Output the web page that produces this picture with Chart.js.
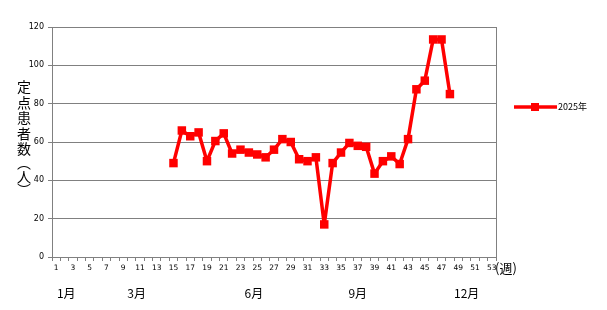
<!DOCTYPE html>
<html>
<head>
<meta charset="utf-8">
<script src="https://cdn.jsdelivr.net/npm/chart.js@4"></script>
<style>
  body { margin: 0; background: #fff; }
  canvas { display: block; }
</style>
</head>
<body>
<canvas id="chart" width="607" height="310"></canvas>
<script>
// weeks 1..53
const weeks = [];
for (let w = 1; w <= 53; w++) weeks.push(String(w));

// 2025 values, week 15 to week 48
const firstWeek = 15;
const values2025 = [49, 66, 63, 65, 50, 60.5, 64.5, 54, 56, 54.5, 53.5, 52, 56, 61.5, 60, 51,
  50, 52, 17, 49, 54.5, 59.5, 58, 57.5, 43.5, 50, 52.5, 48.5, 61.5, 87.5, 92, 113.5, 113.5, 85];

const monthLabels = ['1月', '3月', '6月', '9月', '12月'];
const monthWeeks = [2.2, 10.6, 24.6, 37, 50];
const yTitle = ['定', '点', '患', '者', '数', '︵', '人', '︶'];
const seriesName = '2025年';

const series = weeks.map((w, i) => {
  const k = i + 1 - firstWeek;
  return k >= 0 && k < values2025.length ? values2025[k] : null;
});

const grey = '#808080';
const red = '#ff0000';

const extras = {
  id: 'extras',
  afterDraw(chart) {
    const ctx = chart.ctx;
    const a = chart.chartArea;
    const xs = chart.scales.x;
    ctx.save();
    // right border of plot
    ctx.strokeStyle = grey;
    ctx.lineWidth = 1;
    ctx.beginPath();
    ctx.moveTo(Math.round(a.right) + 0.5, a.top);
    ctx.lineTo(Math.round(a.right) + 0.5, a.bottom);
    ctx.stroke();

    // month labels
    ctx.fillStyle = '#000';
    ctx.textAlign = 'center';
    ctx.textBaseline = 'middle';
    ctx.font = '12px "Noto Sans CJK JP"';
    const step = xs.getPixelForValue(1) - xs.getPixelForValue(0);
    monthLabels.forEach((m, i) => {
      const x = xs.getPixelForValue(0) + (monthWeeks[i] - 1) * step;
      ctx.fillText(m, x, 293);
    });

    // (週)
    ctx.textAlign = 'left';
    ctx.font = '13px "Noto Sans CJK JP"';
    ctx.fillText('(週)', a.right - 1, 268);

    // vertical y title
    ctx.textAlign = 'center';
    ctx.font = '14px "Noto Sans CJK JP"';
    let y = 87;
    yTitle.forEach(ch => {
      const small = ch === '︵' || ch === '︶';
      ctx.fillText(ch, 24, y + (small ? -2 : 0));
      y += small ? 12 : 15.5;
    });

    // legend
    const ly = 107;
    ctx.strokeStyle = red;
    ctx.lineWidth = 3.5;
    ctx.beginPath();
    ctx.moveTo(514, ly);
    ctx.lineTo(557, ly);
    ctx.stroke();
    ctx.fillStyle = red;
    ctx.fillRect(531, ly - 4, 8, 8);
    ctx.fillStyle = '#000';
    ctx.textAlign = 'left';
    ctx.font = '9px "Noto Sans CJK JP"';
    ctx.fillText(seriesName, 558, ly);
    ctx.restore();
  }
};

new Chart(document.getElementById('chart'), {
  type: 'line',
  data: {
    labels: weeks,
    datasets: [{
      label: seriesName,
      data: series,
      borderColor: red,
      backgroundColor: red,
      borderWidth: 3.5,
      borderJoinStyle: 'bevel',
      pointStyle: 'rect',
      pointRadius: 6,
      pointBorderWidth: 0,
      pointHoverRadius: 6,
      spanGaps: false,
      tension: 0
    }]
  },
  options: {
    responsive: false,
    animation: false,
    devicePixelRatio: 1,
    layout: { padding: { top: 27, right: 111, left: 0, bottom: 0 } },
    plugins: { legend: { display: false }, tooltip: { enabled: false } },
    scales: {
      x: {
        offset: true,
        grid: { offset: true, drawOnChartArea: false, drawTicks: true, tickLength: 4, color: grey },
        border: { color: grey },
        ticks: {
          autoSkip: false,
          maxRotation: 0,
          padding: 3,
          color: '#000',
          font: { family: 'DejaVu Sans', size: 7.5 },
          callback: (v, i) => (i % 2 === 0 ? weeks[i] : '')
        },
        afterFit: s => { s.height = 53; }
      },
      y: {
        min: 0,
        max: 120,
        ticks: {
          stepSize: 20,
          padding: 4,
          color: '#000',
          font: { family: 'DejaVu Sans', size: 8 }
        },
        grid: { color: grey, tickLength: 4 },
        border: { color: grey },
        afterFit: s => { s.width = 52; }
      }
    }
  },
  plugins: [extras]
});
</script>
</body>
</html>
